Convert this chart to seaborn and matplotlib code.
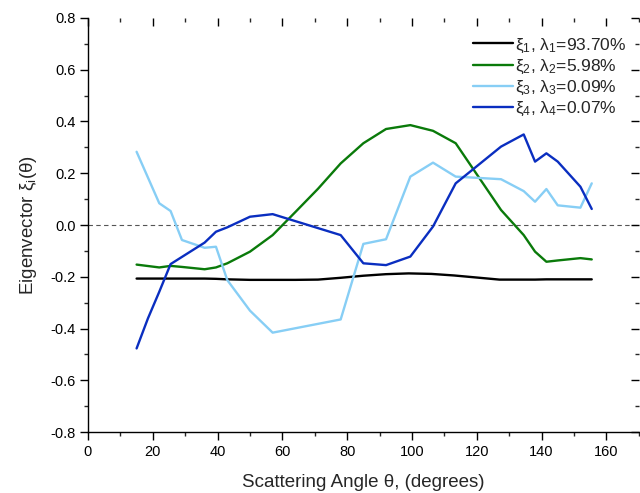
import matplotlib
matplotlib.use("Agg")
import matplotlib.pyplot as plt
import seaborn as sns
import pandas as pd
from matplotlib.ticker import MultipleLocator, NullFormatter

sns.set_theme(style="ticks")
plt.rcParams['font.family'] = ['Liberation Sans', 'DejaVu Sans']
plt.rcParams['mathtext.fontset'] = 'custom'
plt.rcParams['mathtext.rm'] = 'Liberation Sans'
plt.rcParams['mathtext.it'] = 'Liberation Sans'
plt.rcParams['mathtext.bf'] = 'Liberation Sans:bold'

# ---- data ----
angle_1 = [15, 22, 25.5, 29, 36, 39.5, 43, 50, 57, 64, 71, 78, 85, 92, 99, 106, 113, 120, 127, 134, 138, 141.5, 145, 152, 155.5]
xi_1 = [-0.207, -0.207, -0.207, -0.207, -0.207, -0.208, -0.210, -0.212, -0.212, -0.212, -0.211, -0.204,
        -0.196, -0.19, -0.187, -0.189, -0.195, -0.203, -0.211, -0.211, -0.211, -0.210, -0.210, -0.210, -0.210]

angle_2 = [15, 22, 25.5, 29, 36, 39.5, 43, 50, 57, 64, 71, 78, 85, 92, 99.5, 106.5, 113.5, 120.5, 127.5, 134.5, 138, 141.5, 145, 152, 155.5]
xi_2 = [-0.153, -0.164, -0.158, -0.162, -0.171, -0.164, -0.148, -0.103, -0.039, 0.05, 0.14, 0.238,
        0.316, 0.371, 0.386, 0.364, 0.316, 0.187, 0.058, -0.039, -0.103, -0.142, -0.137, -0.128, -0.133]

angle_3 = [15, 22, 25.5, 29, 36, 39.5, 43, 50, 57, 78, 85, 92, 99.5, 106.5, 113.5, 127.5, 134.5, 138, 141.5, 145, 152, 155.5]
xi_3 = [0.283, 0.084, 0.054, -0.058, -0.088, -0.084, -0.213, -0.331, -0.416, -0.365, -0.073, -0.055,
        0.187, 0.241, 0.187, 0.177, 0.131, 0.09, 0.139, 0.076, 0.067, 0.161]

angle_4 = [15, 18.5, 22, 25.5, 36, 39.5, 43, 50, 57, 78, 85, 92, 99.5, 106.5, 113.5, 120.5, 127.5, 134.5, 138, 141.5, 145, 152, 155.5]
xi_4 = [-0.477, -0.361, -0.258, -0.151, -0.068, -0.026, -0.009, 0.032, 0.042, -0.039, -0.148, -0.155,
        -0.122, -0.006, 0.161, 0.232, 0.303, 0.350, 0.245, 0.277, 0.245, 0.148, 0.062]

labels = [r'$\mathrm{\xi_1}$, $\mathrm{\lambda_1}$=93.70%',
          r'$\mathrm{\xi_2}$, $\mathrm{\lambda_2}$=5.98%',
          r'$\mathrm{\xi_3}$, $\mathrm{\lambda_3}$=0.09%',
          r'$\mathrm{\xi_4}$, $\mathrm{\lambda_4}$=0.07%']
colors = ['#000000', '#0A7A0A', '#87CEF5', '#0A2EC0']

frames = []
for a, v, lab in zip([angle_1, angle_2, angle_3, angle_4], [xi_1, xi_2, xi_3, xi_4], labels):
    frames.append(pd.DataFrame({'angle': a, 'value': v, 'series': lab}))
df = pd.concat(frames, ignore_index=True)

fig = plt.figure(figsize=(6.4, 4.93), dpi=100)
ax = fig.add_axes([0.1375, 0.1237, 0.8605, 0.8398])

sns.lineplot(data=df, x='angle', y='value', hue='series', hue_order=labels,
             palette=colors, linewidth=1.7, sort=False, estimator=None, ax=ax)

ax.axhline(0, color='#555555', linestyle=(0, (4, 3)), linewidth=0.8, zorder=0)

ax.set_xlim(0, 170)
ax.set_ylim(-0.8, 0.8)
ax.xaxis.set_major_locator(MultipleLocator(20))
ax.xaxis.set_minor_locator(MultipleLocator(10))
ax.yaxis.set_major_locator(MultipleLocator(0.2))
ax.yaxis.set_minor_locator(MultipleLocator(0.1))
ax.yaxis.set_major_formatter(matplotlib.ticker.FormatStrFormatter('%.1f'))
ax.tick_params(which='major', direction='out', length=5.5, width=1, labelsize=10.5, colors='black')
ax.tick_params(which='minor', direction='out', length=2.8, width=1)
for s in ['top', 'right']:
    ax.spines[s].set_visible(False)
for s in ['left', 'bottom']:
    ax.spines[s].set_color('black')
    ax.spines[s].set_linewidth(1)

# mirrored inward ticks on top and right (no spines)
top = ax.secondary_xaxis('top')
top.xaxis.set_major_locator(MultipleLocator(20))
top.xaxis.set_minor_locator(MultipleLocator(10))
top.xaxis.set_major_formatter(NullFormatter())
top.tick_params(which='major', direction='in', length=5.5, width=1, colors='black')
top.tick_params(which='minor', direction='in', length=2.8, width=1)
top.spines['top'].set_visible(False)

right = ax.secondary_yaxis('right')
right.yaxis.set_major_locator(MultipleLocator(0.2))
right.yaxis.set_minor_locator(MultipleLocator(0.1))
right.yaxis.set_major_formatter(NullFormatter())
right.tick_params(which='major', direction='in', length=5.5, width=1, colors='black')
right.tick_params(which='minor', direction='in', length=2.8, width=1)
right.spines['right'].set_visible(False)

ax.set_xlabel('Scattering Angle θ, (degrees)', fontsize=13.5, labelpad=11)
ax.set_ylabel(r'Eigenvector $\mathrm{\xi_i}$(θ)', fontsize=13.5, labelpad=8)

leg = ax.legend(loc='upper right', bbox_to_anchor=(1.0, 0.985), frameon=False, fontsize=12.5,
                handlelength=2.3, handletextpad=0.15, labelspacing=0.18, borderaxespad=0.3)

fig.savefig('out.png', dpi=100)
